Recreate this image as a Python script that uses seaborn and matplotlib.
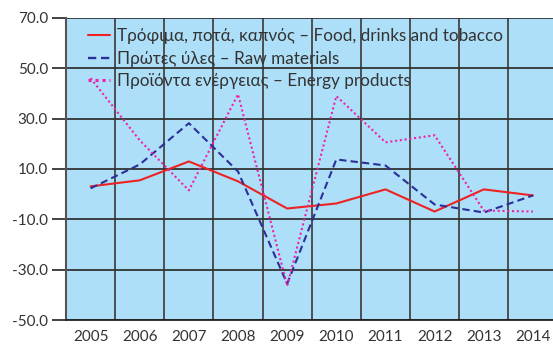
import matplotlib
matplotlib.use("Agg")
import matplotlib.pyplot as plt
import seaborn as sns
import pandas as pd
import numpy as np

years = [2005, 2006, 2007, 2008, 2009, 2010, 2011, 2012, 2013, 2014]
food = [3.1, 5.5, 13.0, 5.1, -5.7, -3.7, 1.9, -6.9, 1.9, -0.5]
raw = [2.3, 11.8, 28.2, 9.0, -35.6, 13.8, 11.4, -4.1, -7.3, -0.5]
energy = [46.1, 21.4, 1.5, 39.7, -36.4, 39.0, 20.6, 23.4, -6.5, -6.9]

labels = [
    "Τρόφιμα, ποτά, καπνός – Food, drinks and tobacco",
    "Πρώτες ύλες – Raw materials",
    "Προϊόντα ενέργειας – Energy products",
]
y_ticks = [70.0, 50.0, 30.0, 10.0, -10.0, -30.0, -50.0]

sns.set_theme(style="white")
plt.rcParams["font.family"] = ["Lato", "DejaVu Sans"]

df = pd.DataFrame({"year": years * 3,
                   "value": food + raw + energy,
                   "series": [labels[0]] * 10 + [labels[1]] * 10 + [labels[2]] * 10})

fig = plt.figure(figsize=(5.53, 3.49), dpi=100)
ax = fig.add_axes([66 / 553, 29 / 349, (557.5 - 66) / 553, (320 - 18) / 349])
ax.set_facecolor("#ADDFF8")

palette = {labels[0]: "#EE2222", labels[1]: "#2B2F9A", labels[2]: "#EE22AA"}
dashes = {labels[0]: "", labels[1]: (3.5, 2.0), labels[2]: (1, 1.3)}
sns.lineplot(data=df, x="year", y="value", hue="series", style="series",
             palette=palette, dashes=dashes, linewidth=1.5, ax=ax, legend=True)
for line in ax.lines:
    if line.get_label() == labels[2]:
        line.set_linewidth(2.2)
    elif line.get_label() == labels[1]:
        line.set_linewidth(1.7)

ax.set_xlim(years[0] - 0.5, years[-1] + 0.5)
ax.set_ylim(-50, 70)
ax.set_yticks(y_ticks)
ax.set_yticklabels([f"{v:.1f}" for v in y_ticks])
ax.set_xticks(years)
ax.set_xticklabels([str(y) for y in years])
ax.set_xticks(np.arange(years[0] - 0.5, years[-1] + 0.6, 1.0), minor=True)

ax.grid(False)
ax.yaxis.grid(True, color="#333333", linewidth=1.3)
ax.xaxis.grid(True, which="minor", color="#444444", linewidth=1.3)
ax.set_axisbelow(True)

ax.tick_params(axis="y", which="major", length=10, width=1.2, color="#222222",
               labelsize=11, labelcolor="#333333", pad=3, left=True)
ax.tick_params(axis="x", which="both", length=0, labelsize=11,
               labelcolor="#333333", pad=7)
ax.set_xlabel("")
ax.set_ylabel("")
for side in ["top", "right"]:
    ax.spines[side].set_visible(False)
ax.spines["left"].set_color("#555555")
ax.spines["left"].set_linewidth(1.5)
ax.spines["bottom"].set_color("#222222")
ax.spines["bottom"].set_linewidth(1.3)

leg = ax.legend(loc="upper left", bbox_to_anchor=(0.03, 0.988), frameon=False,
                fontsize=12.3, handlelength=1.3, handletextpad=0.45,
                labelspacing=0.36, borderaxespad=0)
for t in leg.get_texts():
    t.set_color("#333333")

fig.savefig("out.png", dpi=100)
